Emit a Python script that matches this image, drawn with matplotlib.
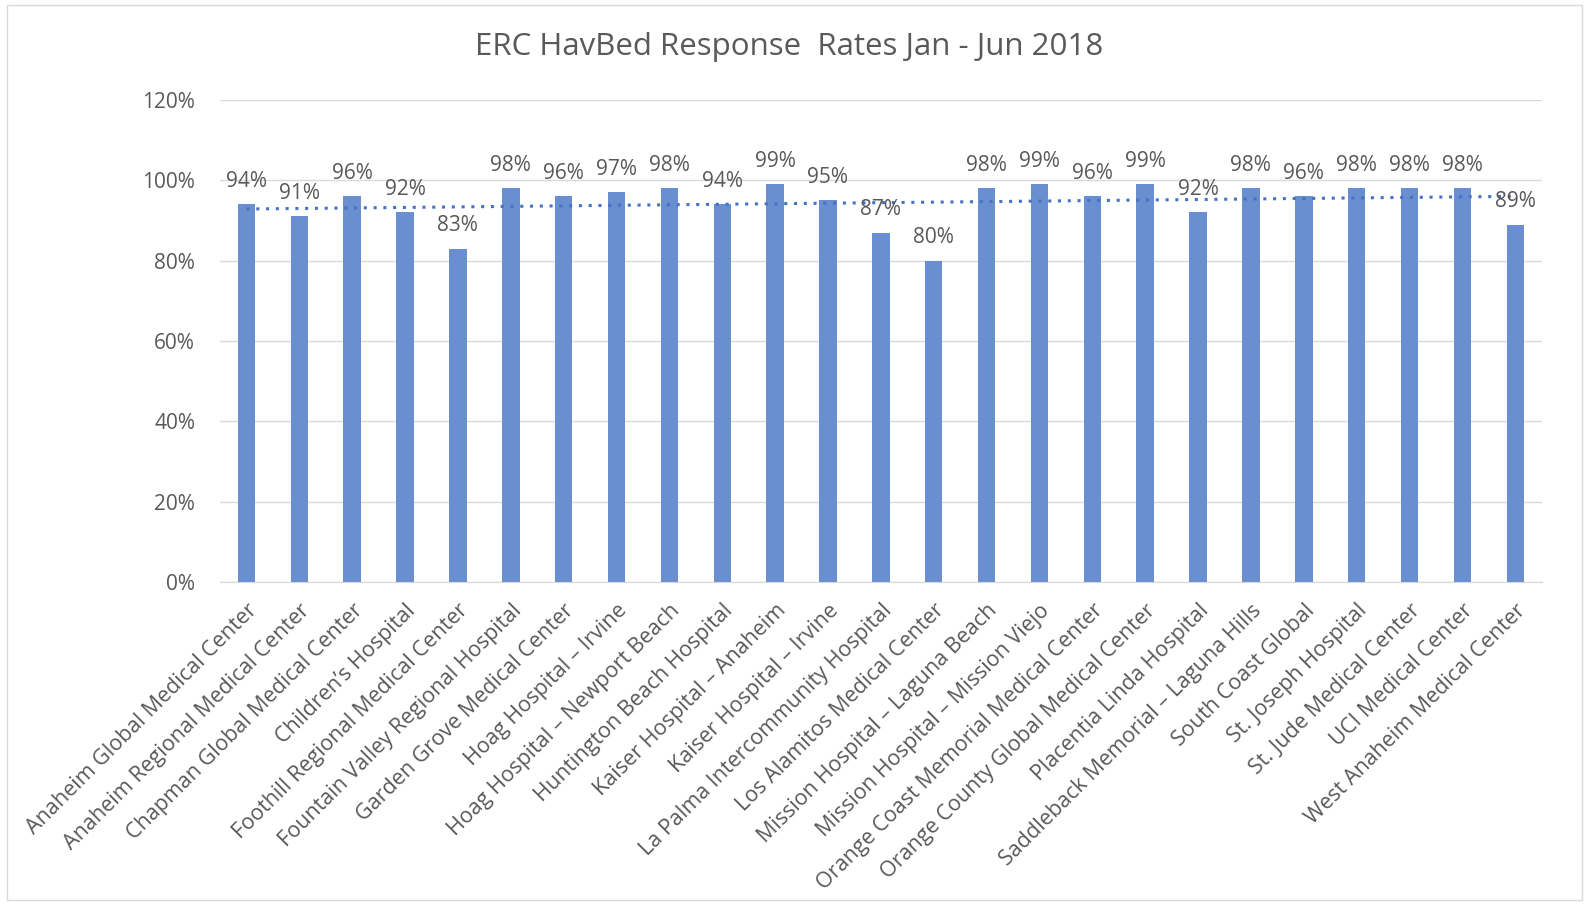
import numpy as np
import matplotlib.pyplot as plt
from matplotlib.ticker import PercentFormatter
from matplotlib.patches import Rectangle

plt.rcParams['font.family'] = ['Open Sans', 'DejaVu Sans']

hospitals = [
    "Anaheim Global Medical Center",
    "Anaheim Regional Medical Center",
    "Chapman Global Medical Center",
    "Children\u2019s Hospital",
    "Foothill Regional Medical Center",
    "Fountain Valley Regional Hospital",
    "Garden Grove Medical Center",
    "Hoag Hospital \u2013 Irvine",
    "Hoag Hospital \u2013 Newport Beach",
    "Huntington Beach Hospital",
    "Kaiser Hospital \u2013 Anaheim",
    "Kaiser Hospital \u2013 Irvine",
    "La Palma Intercommunity Hospital",
    "Los Alamitos Medical Center",
    "Mission Hospital \u2013 Laguna Beach",
    "Mission Hospital \u2013 Mission Viejo",
    "Orange Coast Memorial Medical Center",
    "Orange County Global Medical Center",
    "Placentia Linda Hospital",
    "Saddleback Memorial \u2013 Laguna Hills",
    "South Coast Global",
    "St. Joseph Hospital",
    "St. Jude Medical Center",
    "UCI Medical Center",
    "West Anaheim Medical Center",
]
rates = [94, 91, 96, 92, 83, 98, 96, 97, 98, 94, 99, 95, 87, 80,
         98, 99, 96, 99, 92, 98, 96, 98, 98, 98, 89]

grey = '#595959'
bar_color = '#6a8fd0'

fig = plt.figure(figsize=(15.91, 9.14), dpi=100)
ax = fig.add_axes([0.1383, 0.3632, 0.8307, 0.5274])

x = np.arange(len(rates))
ax.bar(x, rates, width=0.33, color=bar_color, zorder=2)

# linear trendline
k, b = np.polyfit(x, rates, 1)
ax.plot(x, k * x + b, linestyle=(0, (1, 2.2)), color='#4472c4', lw=2.2, zorder=3)

for xi, v in zip(x, rates):
    ax.annotate(f"{v}%", (xi, v), xytext=(0, 9), textcoords='offset points',
                ha='center', va='bottom', fontsize=15, color=grey, zorder=4)

ax.set_xlim(-0.5, len(rates) - 0.5)
ax.set_ylim(0, 120)
ax.set_yticks(range(0, 121, 20))
ax.yaxis.set_major_formatter(PercentFormatter(decimals=0))
ax.grid(axis='y', color='#d9d9d9', lw=1, zorder=0)
for s in ['top', 'right', 'left']:
    ax.spines[s].set_visible(False)
ax.spines['bottom'].set_color('#d9d9d9')
ax.tick_params(axis='both', length=0, colors=grey, labelsize=15)
ax.tick_params(axis='y', pad=18)
ax.set_xticks(x)
ax.set_xticklabels(hospitals, rotation=45, ha='right', rotation_mode='anchor', fontsize=15.5)
ax.tick_params(axis='x', pad=13)

fig.text(0.496, 0.949, "ERC HavBed Response  Rates Jan - Jun 2018",
         ha='center', va='center', fontsize=22.5, color=grey)

fig.patches.append(Rectangle((0.0045, 0.015), 0.99, 0.98, transform=fig.transFigure,
                             fill=False, edgecolor='#d9d9d9', lw=1))

fig.savefig('out.png', dpi=100)
